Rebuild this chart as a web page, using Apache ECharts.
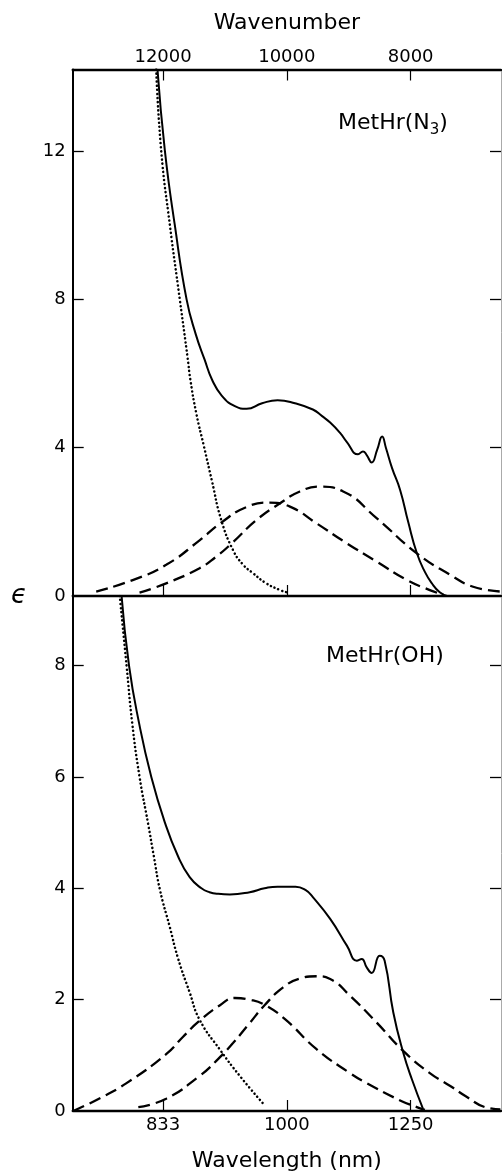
<!DOCTYPE html>
<html>
<head>
<meta charset="utf-8">
<script src="https://cdn.jsdelivr.net/npm/echarts@6/dist/echarts.min.js"></script>
<style>
  html, body {margin: 0; padding: 0; background: #fff;}
  #chart {width: 502px; height: 1173px;}
</style>
</head>
<body>
<div id="chart"></div>
<script>
// x values are wavenumbers (cm-1), y values are epsilon
const wavenumberTicks = [12000, 10000, 8000]
const wavelengthLabels = ['833', '1000', '1250']
const n3Ticks = [4, 8, 12]
const n3Labels = [0, 4, 8, 12]
const ohTicks = [2, 4, 6, 8]
const ohLabels = [0, 2, 4, 6, 8]

// MetHr(N3) panel
const n3Total = [[12090, 14.2], [11970, 12.0], [11810, 10.0], [11620, 8.0], [11470, 7.05], [11330, 6.38],
    [11210, 5.84], [11050, 5.4], [10840, 5.12], [10650, 5.05], [10400, 5.2], [10150, 5.28], [9870, 5.2],
    [9580, 5.03], [9430, 4.85], [9300, 4.68], [9140, 4.4], [9030, 4.15], [8850, 3.82], [8770, 3.9],
    [8710, 3.8], [8630, 3.6], [8540, 3.95], [8460, 4.3], [8400, 4.0], [8300, 3.45], [8170, 2.86],
    [8040, 2.0], [7900, 1.16], [7770, 0.65], [7660, 0.35], [7530, 0.1], [7410, 0.0]]
const n3Tail = [[12110, 14.2], [12030, 12.0], [11890, 10.0], [11730, 8.0], [11600, 6.38], [11560, 5.84],
    [11460, 4.9], [11340, 4.04], [11210, 3.1], [11060, 2.05], [10870, 1.24], [10710, 0.85], [10550, 0.62],
    [10340, 0.35], [10110, 0.16], [10000, 0.1]]
const n3BandA = [[13080, 0.12], [12490, 0.43], [11950, 0.84], [11410, 1.5], [11060, 1.98], [10650, 2.4],
    [10280, 2.52], [9950, 2.41], [9520, 1.96], [9030, 1.42], [8550, 0.93], [8060, 0.43], [7690, 0.16],
    [7470, 0.03]]
const n3BandB = [[12380, 0.09], [11950, 0.34], [11410, 0.75], [11150, 1.05], [10890, 1.42], [10490, 2.05],
    [10110, 2.5], [9790, 2.82], [9470, 2.95], [9090, 2.82], [8550, 2.1], [7900, 1.15], [7360, 0.57],
    [6990, 0.25], [6550, 0.12]]

// MetHr(OH) panel
const ohTotal = [[12670, 9.25], [12550, 8.0], [12390, 6.98], [12190, 6.0], [11970, 5.18], [11760, 4.58],
    [11570, 4.2], [11380, 4.0], [11250, 3.93], [11110, 3.9], [10920, 3.89], [10600, 3.93], [10360, 4.0],
    [10150, 4.03], [9860, 4.03], [9700, 3.97], [9580, 3.84], [9300, 3.45], [9030, 2.97], [8870, 2.7],
    [8790, 2.73], [8710, 2.58], [8630, 2.48], [8500, 2.79], [8420, 2.7], [8280, 1.77], [8120, 1.05],
    [7980, 0.57], [7800, 0.04]]
const ohTail = [[12700, 9.25], [12590, 8.0], [12500, 6.98], [12380, 6.0], [12240, 5.15], [12150, 4.58],
    [12050, 3.97], [11890, 3.3], [11760, 2.75], [11570, 2.13], [11410, 1.64], [11080, 1.1], [10760, 0.63],
    [10380, 0.13]]
const ohBandA = [[13450, 0.0], [13020, 0.23], [12590, 0.5], [11950, 1.02], [11680, 1.33], [11410, 1.62],
    [11080, 1.9], [10840, 2.03], [10600, 2.0], [10380, 1.92], [10030, 1.65], [9520, 1.11], [8980, 0.68],
    [8710, 0.5], [8170, 0.19], [7900, 0.07], [7770, 0.02]]
const ohBandB = [[12400, 0.07], [11950, 0.22], [11410, 0.63], [11140, 0.9], [10870, 1.22], [10600, 1.58],
    [10360, 1.9], [10060, 2.22], [9790, 2.38], [9520, 2.42], [9300, 2.37], [8980, 2.07], [8550, 1.59],
    [8120, 1.08], [7690, 0.68], [7360, 0.45], [7090, 0.25], [6800, 0.07], [6550, 0.03]]

const font = 'DejaVu Sans'
const left = 72.7, right = 1
const xMin = 6540, xMax = 13460

function xAxisDef(gridIndex, position, labels, name) {
    return {
        type: 'value', gridIndex: gridIndex, position: position, inverse: true,
        min: xMin, max: xMax,
        splitLine: {show: false},
        axisLine: {show: true, onZero: false, lineStyle: {color: '#000', width: 2.3}},
        axisTick: {show: true, inside: true, length: 11, customValues: wavenumberTicks,
            lineStyle: {color: '#000', width: 1.2}},
        axisLabel: {show: labels !== null, customValues: wavenumberTicks, margin: position === 'top' ? 3 : 5,
            color: '#000', fontFamily: font, fontSize: 18,
            formatter: v => labels ? labels[wavenumberTicks.indexOf(v)] : ''},
        name: name, nameLocation: 'middle', nameGap: position === 'top' ? 35 : 39,
        nameTextStyle: {color: '#000', fontFamily: font, fontSize: 22}
    }
}

function yAxisDef(gridIndex, position, max, ticks, labels) {
    const isLeft = position === 'left'
    return {
        type: 'value', gridIndex: gridIndex, position: position, min: 0, max: max,
        splitLine: {show: false},
        axisLine: {show: true, onZero: false,
            lineStyle: {color: isLeft ? '#000' : '#aaa', width: isLeft ? 2 : 1}},
        axisTick: {show: true, inside: true, length: 11, customValues: ticks,
            lineStyle: {color: '#000', width: 1.3}},
        axisLabel: {show: isLeft, customValues: labels, margin: 7,
            color: '#000', fontFamily: font, fontSize: 18}
    }
}

const solid = {color: '#000', width: 2}
const dashed = {color: '#000', width: 2.3, type: [12, 6]}
const dotted = {color: '#000', width: 2.5, type: [0.1, 4], cap: 'round'}

function line(data, style, xi, yi) {
    return {type: 'line', data: data, xAxisIndex: xi, yAxisIndex: yi, showSymbol: false,
        smooth: 0.5, lineStyle: style, silent: true, animation: false}
}

const chart = echarts.init(document.getElementById('chart'))
chart.setOption({
    animation: false,
    grid: [
        {left: left, right: right, top: 69.5, height: 526.5},
        {left: left, right: right, top: 596, height: 516}
    ],
    xAxis: [
        xAxisDef(0, 'top', wavenumberTicks.map(String), 'Wavenumber'),
        xAxisDef(0, 'bottom', null, ''),
        xAxisDef(1, 'bottom', wavelengthLabels, 'Wavelength (nm)')
    ],
    yAxis: [
        yAxisDef(0, 'left', 14.2, n3Ticks, n3Labels),
        yAxisDef(0, 'right', 14.2, n3Ticks, n3Labels),
        yAxisDef(1, 'left', 9.25, ohTicks, ohLabels),
        yAxisDef(1, 'right', 9.25, ohTicks, ohLabels)
    ],
    series: [
        line(n3Total, solid, 0, 0),
        line(n3Tail, dotted, 0, 0),
        line(n3BandA, dashed, 0, 0),
        line(n3BandB, dashed, 0, 0),
        line(ohTotal, solid, 2, 2),
        line(ohTail, dotted, 2, 2),
        line(ohBandA, dashed, 2, 2),
        line(ohBandB, dashed, 2, 2)
    ],
    graphic: [
        {type: 'text', left: 11, top: 583,
            style: {text: 'ϵ', fill: '#000', font: 'italic 26px "DejaVu Sans"'}},
        {type: 'text', left: 338, top: 112,
            style: {text: '{a|MetHr(N}{s|3}{a|)}', fill: '#000',
                rich: {a: {fontFamily: font, fontSize: 22, verticalAlign: 'top', lineHeight: 26},
                    s: {fontFamily: font, fontSize: 15, padding: [10, 0, 0, 0], lineHeight: 26}}}},
        {type: 'text', left: 326, top: 645,
            style: {text: 'MetHr(OH)', fill: '#000', fontFamily: font, fontSize: 22}}
    ]
})
</script>
</body>
</html>
